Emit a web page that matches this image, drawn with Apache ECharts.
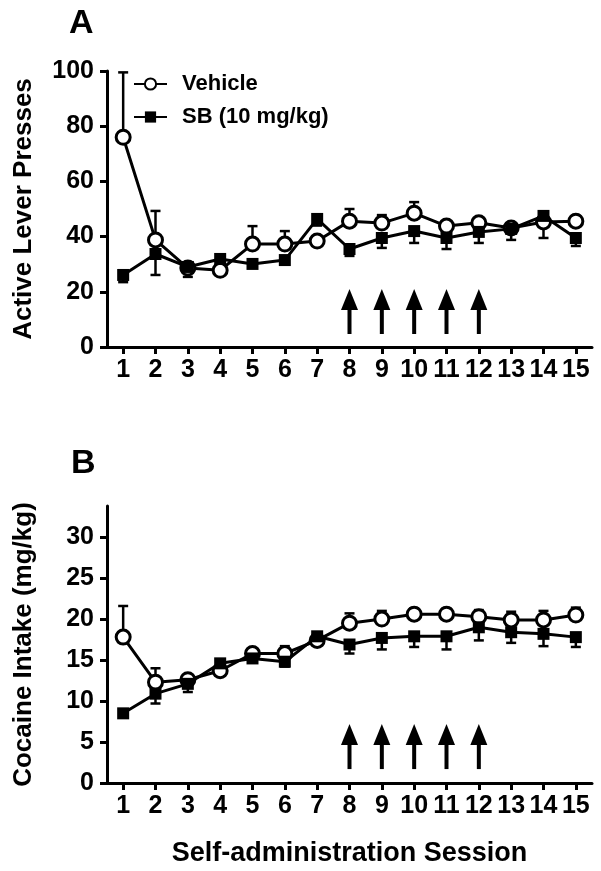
<!DOCTYPE html>
<html><head><meta charset="utf-8">
<script src="https://cdn.jsdelivr.net/npm/echarts@6/dist/echarts.min.js"></script>
<style>html,body{margin:0;padding:0;background:#fff}#c{width:601px;height:871px}</style>
</head><body><div id="c"></div>
<script>
const sessions = ['1','2','3','4','5','6','7','8','9','10','11','12','13','14','15'];
// Panel A: active lever presses (mean, SEM)
const vehicleA     = [76, 38.8, 28.6, 27.8, 37.3, 37.3, 38.4, 45.6, 44.9, 48.5, 43.8, 45.0, 43.1, 45.3, 45.6];
const vehicleA_sem = [23.5, 10.5, 1.4, 0.7, 6.5, 4.7, 1.5, 4.4, 2.9, 4.0, 1.7, 1.5, 1.2, 1.7, 1.9];
const sbA          = [26.1, 33.7, 29.0, 31.9, 30.1, 31.5, 46.4, 35.5, 39.5, 42.0, 39.5, 41.7, 42.8, 47.5, 39.5];
const sbA_sem      = [2.6, 7.6, 3.6, 1.9, 1.1, 1.5, 2.4, 2.5, 3.6, 4.3, 4.0, 4.0, 4.0, 8.0, 2.9];
// Panel B: cocaine intake (mean, SEM)
const vehicleB     = [17.8, 12.3, 12.6, 13.7, 15.8, 15.8, 17.4, 19.5, 20.0, 20.6, 20.6, 20.3, 19.9, 19.9, 20.5];
const vehicleB_sem = [3.8, 1.7, 0.4, 0.3, 0.6, 0.9, 0.5, 1.2, 1.0, 0.7, 0.7, 0.8, 1.0, 1.1, 0.9];
const sbB          = [8.5, 10.9, 12.1, 14.6, 15.2, 14.8, 17.9, 16.9, 17.7, 17.9, 17.9, 19.0, 18.4, 18.2, 17.8];
const sbB_sem      = [0.3, 1.2, 1.0, 0.4, 0.4, 0.6, 0.4, 1.1, 1.4, 1.3, 1.6, 1.6, 1.3, 1.5, 1.2];
// Treatment arrows (sessions, [bottom, tip] in data units)
const arrowSessions = ['8','9','10','11','12'];
const arrowA = [4.7, 21];
const arrowB = [1.7, 7.2];
const yTicksA = [0, 20, 40, 60, 80, 100];
const yTicksB = [0, 5, 10, 15, 20, 25, 30];
const seriesNames = ['Vehicle', 'SB (10 mg/kg)'];

const FONT = 'Liberation Sans, Arial, Helvetica, sans-serif';
const chart = echarts.init(document.getElementById('c'), null, {renderer: 'canvas'});

function errData(mean, sem) { return mean.map((m, i) => [i, m, sem[i]]); }
function errRender(dir) {
  return function (params, api) {
    const x = api.value(0), y = api.value(1), e = api.value(2);
    const p0 = api.coord([x, y]);
    const p1 = api.coord([x, y + dir * e]);
    return {type: 'group', children: [
      {type: 'line', shape: {x1: p0[0], y1: p0[1], x2: p1[0], y2: p1[1]}, style: {stroke: '#000', lineWidth: 2.5}},
      {type: 'line', shape: {x1: p1[0] - 5, y1: p1[1], x2: p1[0] + 5, y2: p1[1]}, style: {stroke: '#000', lineWidth: 2.5}}
    ]};
  };
}
function arrowRender(params, api) {
  const idx = api.value(0);
  const b = api.coord([idx, api.value(1)]);
  const t = api.coord([idx, api.value(2)]);
  const hl = 21, hw = 8.5;
  return {type: 'group', children: [
    {type: 'line', shape: {x1: b[0], y1: b[1], x2: t[0], y2: t[1] + hl - 2}, style: {stroke: '#000', lineWidth: 4}},
    {type: 'polygon', shape: {points: [[t[0], t[1]], [t[0] - hw, t[1] + hl], [t[0] + hw, t[1] + hl]]}, style: {fill: '#000'}}
  ]};
}
function arrowData(range) { return arrowSessions.map(s => [sessions.indexOf(s), range[0], range[1]]); }

const axisStyle = {lineStyle: {color: '#000', width: 3}};
const tickStyle = {show: true, inside: false, length: 7, lineStyle: {color: '#000', width: 3}};
const labelStyle = {color: '#000', fontFamily: FONT, fontWeight: 'bold', fontSize: 25};
const nameStyle = {color: '#000', fontFamily: FONT, fontWeight: 'bold', fontSize: 26};

function xAxis(gridIndex, name) {
  return {
    type: 'category', gridIndex, data: sessions, boundaryGap: true,
    axisLine: axisStyle, axisTick: Object.assign({alignWithLabel: true}, tickStyle),
    axisLabel: Object.assign({margin: 11, interval: 0}, labelStyle),
    splitLine: {show: false},
    name: name || '', nameLocation: 'middle', nameGap: 57, nameTextStyle: Object.assign({}, nameStyle, {fontSize: 27})
  };
}
function yAxis(gridIndex, max, ticks, name, gap) {
  return {
    type: 'value', gridIndex, min: 0, max,
    axisLine: {show: true, lineStyle: {color: '#000', width: 3}},
    axisTick: Object.assign({customValues: ticks}, tickStyle),
    axisLabel: Object.assign({margin: 13, customValues: ticks}, labelStyle),
    splitLine: {show: false},
    name, nameLocation: 'middle', nameRotate: 90, nameGap: gap, nameTextStyle: nameStyle
  };
}
const vehStyle = {symbol: 'circle', symbolSize: 14, itemStyle: {color: '#fff', borderColor: '#000', borderWidth: 3}, lineStyle: {color: '#000', width: 3}};
const sbStyle = {symbol: 'rect', symbolSize: 12, itemStyle: {color: '#000', borderColor: '#000', borderWidth: 0}, lineStyle: {color: '#000', width: 3}};

function panelSeries(g, veh, vehSem, sb, sbSem, arrow) {
  return [
    {type: 'custom', xAxisIndex: g, yAxisIndex: g, renderItem: errRender(1), data: errData(veh, vehSem), encode: {x: 0, y: 1}, z: 1, silent: true, clip: false},
    {type: 'custom', xAxisIndex: g, yAxisIndex: g, renderItem: errRender(-1), data: errData(sb, sbSem), encode: {x: 0, y: 1}, z: 1, silent: true, clip: false},
    Object.assign({type: 'line', name: seriesNames[0], xAxisIndex: g, yAxisIndex: g, data: veh, z: 3, showAllSymbol: true, animation: false}, vehStyle),
    Object.assign({type: 'line', name: seriesNames[1], xAxisIndex: g, yAxisIndex: g, data: sb, z: 4, showAllSymbol: true, animation: false}, sbStyle),
    {type: 'custom', xAxisIndex: g, yAxisIndex: g, renderItem: arrowRender, data: arrowData(arrow), encode: {x: 0, y: [1, 2]}, z: 2, silent: true}
  ];
}

chart.setOption({
  animation: false,
  backgroundColor: '#fff',
  grid: [
    {left: 107, right: 9, top: 71, bottom: 524, containLabel: false},
    {left: 107, right: 9, top: 506, bottom: 88, containLabel: false}
  ],
  xAxis: [xAxis(0), xAxis(1, 'Self-administration Session')],
  yAxis: [yAxis(0, 100, yTicksA, 'Active Lever Presses', 70), yAxis(1, 33.8, yTicksB, 'Cocaine Intake (mg/kg)', 70)],
  legend: {
    data: seriesNames, orient: 'vertical', left: 133, top: 73, padding: 0, itemWidth: 33, itemHeight: 14, itemGap: 11,
    textStyle: {color: '#000', fontFamily: FONT, fontWeight: 'bold', fontSize: 22, lineHeight: 22, padding: [0, 0, 0, 10]},
    selectedMode: false
  },
  graphic: [
    {type: 'text', left: 69, top: 7, style: {text: 'A', font: 'bold 34px ' + FONT, fill: '#000'}},
    {type: 'text', left: 71, top: 447, style: {text: 'B', font: 'bold 34px ' + FONT, fill: '#000'}}
  ],
  series: [].concat(
    panelSeries(0, vehicleA, vehicleA_sem, sbA, sbA_sem, arrowA),
    panelSeries(1, vehicleB, vehicleB_sem, sbB, sbB_sem, arrowB)
  )
});
</script>
</body></html>
